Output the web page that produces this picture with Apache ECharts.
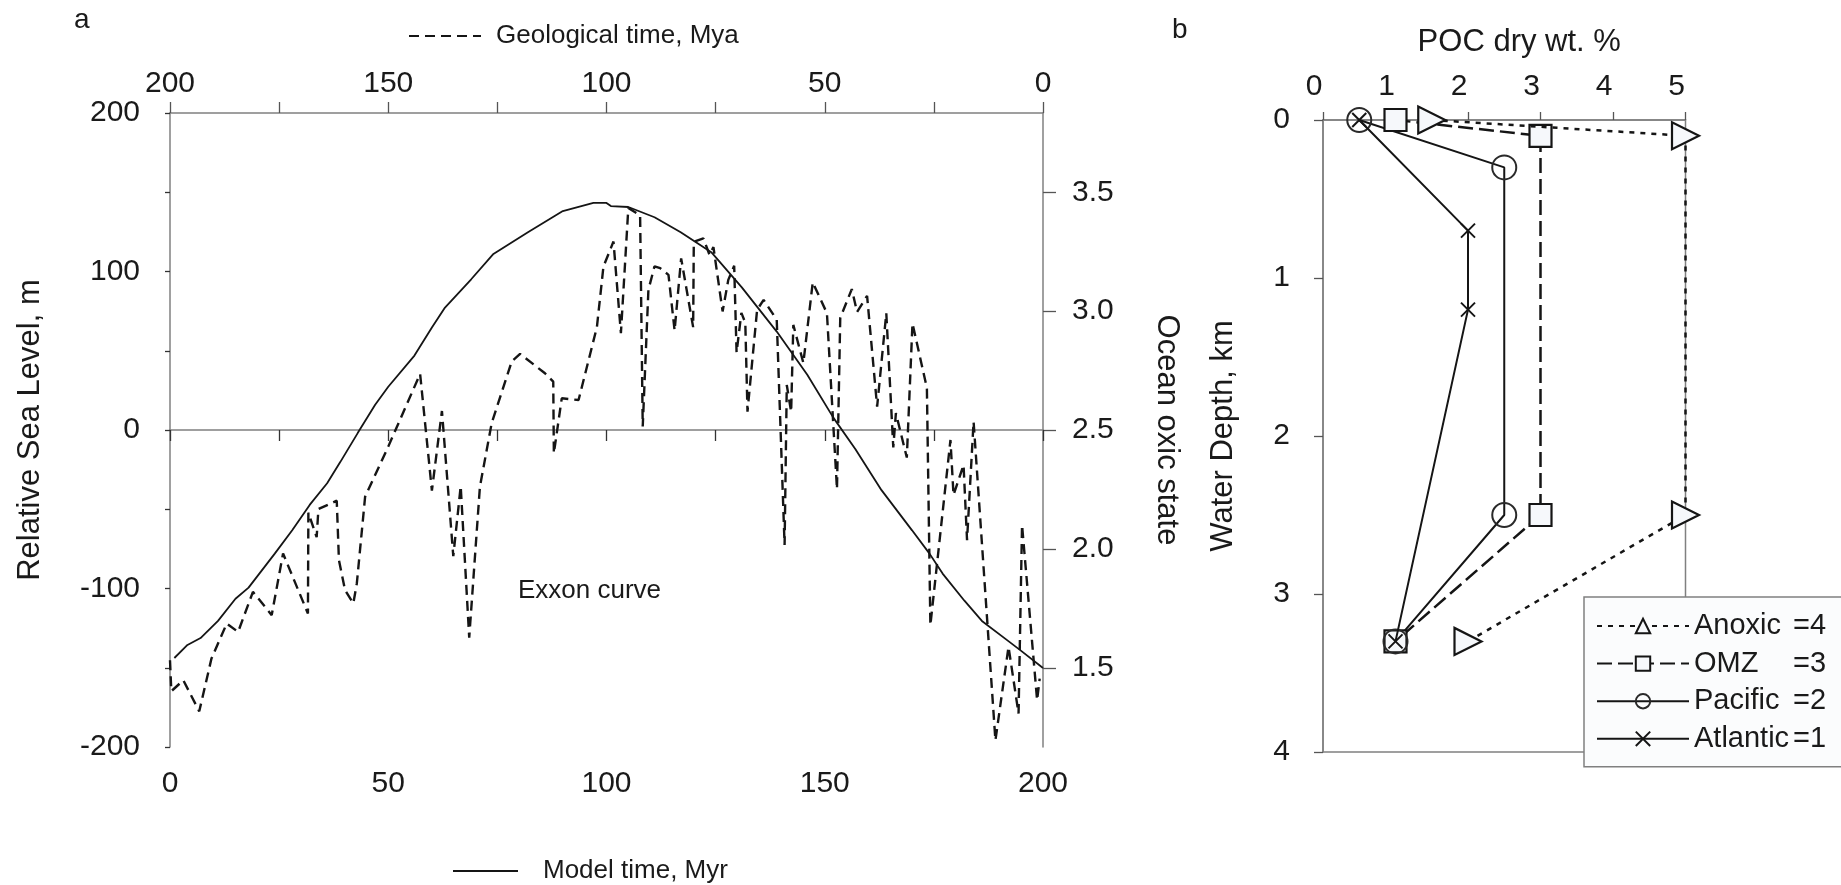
<!DOCTYPE html>
<html><head><meta charset="utf-8">
<script src="https://cdn.jsdelivr.net/npm/echarts@6/dist/echarts.min.js"></script>
<style>html,body{margin:0;padding:0;background:#fff}#c{width:1841px;height:885px}</style>
</head><body><div id="c"></div>
<script>
// ---------- Panel a data ----------
const modelTime = [1,4,7,11,15,18,24,28,32,36,39,43,47,50,56,60,63,69,74,82,90,97,100,101,105,111,117,124,131,139,146,152,157,163,170,174,177,182,186,192,195,200];
const modelOxic = [1.541,1.596,1.625,1.697,1.790,1.837,1.980,2.078,2.185,2.276,2.365,2.487,2.606,2.682,2.813,2.931,3.015,3.134,3.239,3.332,3.421,3.455,3.455,3.442,3.438,3.395,3.332,3.248,3.100,2.914,2.732,2.551,2.420,2.247,2.078,1.980,1.896,1.782,1.697,1.613,1.571,1.499];
const exxonAge = [200.0,199.7,196.95,193.3,190.5,187.0,184.4,181.0,176.7,174.1,
  168.4,168.3,166.4,166.0,161.8,161.3,159.9,158.0,157.2,155.3,
  150.0,142.7,140.0,137.7,135.1,133.4,131.45,129.0,126.3,121.7,
  119.8,114.1,112.2,112.06,110.25,106.4,102.2,100.7,98.4,96.7,
  95.0,92.3,91.7,90.4,89.0,87.7,85.8,84.4,82.9,80.15,
  80.0,77.8,76.4,75.5,73.4,72.1,70.75,70.2,69.1,68.2,
  67.7,65.5,64.0,61.0,59.2,58.7,57.7,57.2,54.9,52.75,
  49.5,47.2,46.45,43.8,42.6,40.3,38.0,35.9,34.3,33.7,
  31.2,29.9,26.6,25.8,21.2,20.5,18.2,17.4,15.9,10.9,
  7.9,5.6,4.8,1.35,0.76];
const exxonLevel = [-145.3,-164.8,-157.9,-177.5,-144.2,-122.1,-127.4,-102.1,-116.8,-77.9,
  -115.8,-52.2,-67.6,-49.9,-44.6,-82.1,-101.0,-109.4,-96.8,-42.1,
  -10.5,35.4,-38.2,12.0,-79.6,-35.4,-131.0,-35.8,4.4,43.3,
  48.0,35.8,30.5,-14.7,20.0,18.9,64.9,103.1,118.9,61.1,
  140.0,135.4,2.2,88.4,103.3,102.1,97.9,62.8,108.3,64.9,
  118.7,120.9,110.5,115.4,74.8,94.7,103.6,48.9,73.9,67.6,
  11.6,75.8,82.1,69.5,-72.6,28.4,11.4,66.3,42.3,93.1,
  73.7,-37.3,70.7,88.9,74.5,84.6,14.7,73.7,-11.0,10.7,
  -17.4,67.3,26.5,-123.1,-6.3,-41.0,-22.1,-69.5,5.2,-195.8,
  -136.8,-178.9,-60.0,-170.5,-156.8];
const oxicTickValues = [1.5, 2.0, 2.5, 3.0, 3.5];

// ---------- Panel b data ----------
const bNames = ['Anoxic', 'OMZ', 'Pacific', 'Atlantic'];
const bCodes = ['=4', '=3', '=2', '=1'];
const pocAnoxic = [1.5, 5.0, 5.0, 2.0];
const depthAnoxic = [0, 0.1, 2.5, 3.3];
const pocOMZ = [1.0, 3.0, 3.0, 1.0];
const depthOMZ = [0, 0.1, 2.5, 3.3];
const pocPacific = [0.5, 2.5, 2.5, 1.0];
const depthPacific = [0, 0.3, 2.5, 3.3];
const pocAtlantic = [0.5, 2.0, 2.0, 1.0];
const depthAtlantic = [0, 0.7, 1.2, 3.3];

const zip = (a, b) => a.map((v, i) => [v, b[i]]);
const FONT = "'Liberation Sans', Arial, Helvetica, sans-serif";
const TXT = '#1a1a1a';
const AX = '#808080';
const INK = '#151515';
const MFILL = '#f6f8fb';

const chart = echarts.init(document.getElementById('c'), null, {renderer: 'canvas'});
const axLine = {show: true, lineStyle: {color: AX, width: 1.5}};
const lbl = (extra) => Object.assign({color: TXT, fontSize: 30, fontFamily: FONT, showMinLabel: true, showMaxLabel: true}, extra);

chart.setOption({
  animation: false,
  backgroundColor: '#ffffff',
  textStyle: {fontFamily: FONT, color: TXT},
  grid: [
    {left: 170, top: 113, width: 873, height: 634, containLabel: false},
    {left: 1323, top: 120, width: 362.5, height: 632, show: true, borderColor: AX, borderWidth: 1.5, backgroundColor: 'transparent', containLabel: false}
  ],
  xAxis: [
    {type: 'value', gridIndex: 0, position: 'bottom', min: 0, max: 200, interval: 25,
      axisLine: axLine, axisTick: {show: true, length: 11, lineStyle: {color: '#333', width: 1.3}},
      axisLabel: lbl({margin: 22, formatter: v => (v % 50 === 0 ? String(v) : '')}),
      splitLine: {show: false}},
    {type: 'value', gridIndex: 0, position: 'top', min: 0, max: 200, inverse: true, interval: 25,
      axisLine: axLine, axisTick: {show: true, length: 11, lineStyle: {color: '#555', width: 1.3}},
      axisLabel: lbl({margin: 14, formatter: v => (v % 50 === 0 ? String(v) : '')}),
      splitLine: {show: false}},
    {type: 'value', gridIndex: 1, position: 'top', min: 0, max: 5, interval: 1,
      name: 'POC dry wt. %', nameLocation: 'middle', nameGap: 62,
      nameTextStyle: {fontSize: 31, color: TXT, fontFamily: FONT, padding: [0, 0, 0, 30]},
      axisLine: axLine, axisTick: {show: true, length: 8, lineStyle: {color: '#555', width: 1.3}},
      axisLabel: lbl({margin: 18, padding: [0, 18, 0, 0]}),
      splitLine: {show: false}}
  ],
  yAxis: [
    {type: 'value', gridIndex: 0, position: 'left', min: -200, max: 200, interval: 50,
      name: 'Relative Sea Level, m', nameLocation: 'middle', nameGap: 124,
      nameTextStyle: {fontSize: 31, color: TXT, fontFamily: FONT},
      axisLine: axLine, axisTick: {show: true, length: 5, lineStyle: {color: '#333', width: 1.3}},
      axisLabel: lbl({margin: 30, formatter: v => (v % 100 === 0 ? String(v) : '')}),
      splitLine: {show: false}},
    {type: 'value', gridIndex: 0, position: 'right', min: 7 / 6, max: 23 / 6,
      name: 'Ocean oxic state', nameLocation: 'middle', nameGap: 108, nameRotate: -90,
      nameTextStyle: {fontSize: 31, color: TXT, fontFamily: FONT},
      axisLine: axLine,
      axisTick: {show: true, length: 13, customValues: oxicTickValues, lineStyle: {color: '#555', width: 1.3}},
      axisLabel: lbl({margin: 29, customValues: oxicTickValues, formatter: v => Number(v).toFixed(1)}),
      splitLine: {show: false}},
    {type: 'value', gridIndex: 1, position: 'left', min: 0, max: 4, interval: 1, inverse: true,
      name: 'Water Depth, km', nameLocation: 'middle', nameGap: 84,
      nameTextStyle: {fontSize: 31, color: TXT, fontFamily: FONT},
      axisLine: axLine, axisTick: {show: true, length: 9, lineStyle: {color: '#555', width: 1.3}},
      axisLabel: lbl({margin: 33}),
      splitLine: {show: false}}
  ],
  legend: [
    {data: ['Geological time, Mya'], left: 403, top: 18, itemWidth: 72, itemHeight: 14,
      itemStyle: {opacity: 0},
      textStyle: {fontSize: 26, color: TXT, fontFamily: FONT, padding: [0, 0, 0, 10]}, selectedMode: false},
    {data: ['Model time, Myr'], left: 447, top: 853, itemWidth: 65, itemHeight: 14,
      itemStyle: {opacity: 0},
      textStyle: {fontSize: 26, color: TXT, fontFamily: FONT, padding: [0, 0, 0, 20]}, selectedMode: false},
    {data: bNames, orient: 'vertical', left: 1584, top: 597, itemWidth: 92, itemHeight: 18, itemGap: 7.6,
      symbolRotate: 0, selectedMode: false,
      padding: [14, 20, 13, 12], backgroundColor: '#fbfcfd', borderColor: AX, borderWidth: 1.5,
      formatter: name => '{n|' + name + '}{c|' + bCodes[bNames.indexOf(name)] + '}',
      textStyle: {fontSize: 29, color: TXT, fontFamily: FONT, lineHeight: 30,
        rich: {n: {fontSize: 29, width: 99, fontFamily: FONT, color: TXT}, c: {fontSize: 29, fontFamily: FONT, color: TXT}}}}
  ],
  graphic: [
    {type: 'text', left: 74, top: 6, style: {text: 'a', fontSize: 28, fontFamily: FONT, fill: TXT}},
    {type: 'text', left: 1172, top: 16, style: {text: 'b', fontSize: 28, fontFamily: FONT, fill: TXT}},
    {type: 'text', left: 518, top: 578, style: {text: 'Exxon curve', fontSize: 26, fontFamily: FONT, fill: TXT}}
  ],
  series: [
    {name: 'Geological time, Mya', type: 'line', xAxisIndex: 1, yAxisIndex: 0, data: zip(exxonAge, exxonLevel),
      showSymbol: false, symbol: 'none', lineStyle: {color: INK, width: 2.4, type: [10, 6]}, itemStyle: {color: INK}, z: 3},
    {name: 'Model time, Myr', type: 'line', xAxisIndex: 0, yAxisIndex: 1, data: zip(modelTime, modelOxic),
      showSymbol: false, symbol: 'none', lineStyle: {color: INK, width: 1.8}, itemStyle: {color: INK}, z: 2},
    {name: 'Anoxic', type: 'line', xAxisIndex: 2, yAxisIndex: 2, data: zip(pocAnoxic, depthAnoxic),
      symbol: 'triangle', symbolRotate: -90, symbolSize: 27,
      lineStyle: {color: INK, width: 2.5, type: [5, 6]},
      itemStyle: {color: MFILL, borderColor: INK, borderWidth: 2.2}, z: 5},
    {name: 'OMZ', type: 'line', xAxisIndex: 2, yAxisIndex: 2, data: zip(pocOMZ, depthOMZ),
      symbol: 'rect', symbolSize: 22,
      lineStyle: {color: INK, width: 2.5, type: [15, 6]},
      itemStyle: {color: MFILL, borderColor: INK, borderWidth: 2.2}, z: 4},
    {name: 'Pacific', type: 'line', xAxisIndex: 2, yAxisIndex: 2, data: zip(pocPacific, depthPacific),
      symbol: 'circle', symbolSize: 24,
      lineStyle: {color: INK, width: 2},
      itemStyle: {color: 'rgba(255,255,255,0)', borderColor: '#2a2a2a', borderWidth: 2}, z: 4},
    {name: 'Atlantic', type: 'line', xAxisIndex: 2, yAxisIndex: 2, data: zip(pocAtlantic, depthAtlantic),
      symbol: 'path://M0,0L10,10M10,0L0,10', symbolSize: 14,
      lineStyle: {color: INK, width: 2},
      itemStyle: {color: INK, borderColor: INK, borderWidth: 2}, z: 6}
  ]
});
</script>
</body></html>
